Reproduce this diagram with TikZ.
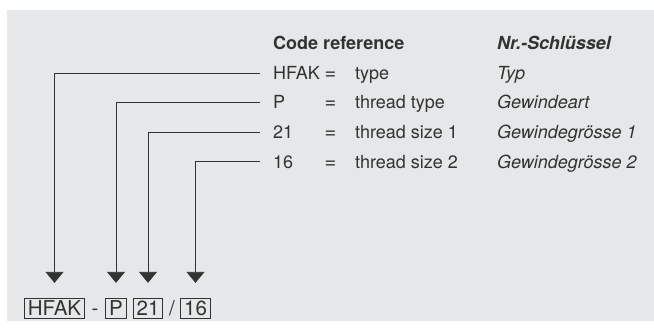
\documentclass[tikz,border=0pt]{standalone}
\usepackage{fontspec}
\setmainfont{TeX Gyre Heros}
\usetikzlibrary{arrows.meta}

\definecolor{panelgray}{RGB}{230,231,232}
\definecolor{inkgray}{RGB}{50,50,50}

\tikzset{
  rowtext/.style={anchor=west,inner sep=0pt,text height=13pt,text depth=0pt,
    text=inkgray,font=\fontsize{18}{20}\selectfont},
  gertext/.style={rowtext,font=\fontsize{18}{20}\selectfont\itshape},
  eqtext/.style={rowtext,font=\fontsize{20}{22}\selectfont},
  codebox/.style={draw=inkgray,line width=0.8pt,inner xsep=3.5pt,inner ysep=3pt,
    text height=14.5pt,text depth=0pt,text=inkgray,font=\fontsize{20.5}{22}\selectfont},
  joiner/.style={inner sep=0pt,text height=14.5pt,text depth=0pt,
    text=inkgray,font=\fontsize{20.5}{22}\selectfont},
  leader/.style={draw=inkgray,line width=0.8pt,shorten <=13pt,shorten >=15pt,
    -{Triangle[width=18pt,length=11pt]}}
}

\begin{document}
\begin{tikzpicture}[x=1pt,y=-1pt]
  \useasboundingbox (0,0) rectangle (654,329);
  \fill[panelgray] (7,10) rectangle (654,321);% panel

  \def\colCode{273}
  \def\colEq{324.5}
  \def\colDesc{355}
  \def\colGer{497}

  % header
  \node[rowtext,font=\fontsize{18}{20}\selectfont\bfseries] (hdCode) at (\colCode,43.5) {Code reference};
  \node[rowtext,font=\fontsize{18}{20}\selectfont\bfseries\itshape] (hdGer) at (\colGer,43.5) {Nr.-Schlüssel};

  % rows
  \node[rowtext] (cHFAK) at (\colCode,73) {HFAK};
  \node[eqtext] (eqHFAK) at (\colEq,73) {=};
  \node[rowtext] (dHFAK) at (\colDesc,73) {type};
  \node[gertext] (gHFAK) at (\colGer,73) {Typ};

  \node[rowtext] (cP) at (\colCode,102.5) {P};
  \node[eqtext] (eqP) at (\colEq,102.5) {=};
  \node[rowtext] (dP) at (\colDesc,102.5) {thread type};
  \node[gertext] (gP) at (\colGer,102.5) {Gewindeart};

  \node[rowtext] (c21) at (\colCode,132) {21};
  \node[eqtext] (eq21) at (\colEq,132) {=};
  \node[rowtext] (d21) at (\colDesc,132) {thread size 1};
  \node[gertext] (g21) at (\colGer,132) {Gewindegrösse 1};

  \node[rowtext] (c16) at (\colCode,161.5) {16};
  \node[eqtext] (eq16) at (\colEq,161.5) {=};
  \node[rowtext] (d16) at (\colDesc,161.5) {thread size 2};
  \node[gertext] (g16) at (\colGer,161.5) {Gewindegrösse 2};

  % code boxes
  \node[codebox] (bHFAK) at (54.5,308.5) {HFAK};
  \node[joiner] (dash) at (95,308.5) {-};
  \node[codebox] (bP) at (116,308.5) {P};
  \node[codebox] (b21) at (148,308.5) {21};
  \node[joiner] (slash) at (172,308.5) {/};
  \node[codebox] (b16) at (195.5,308.5) {16};

  % leaders
  \draw[leader] (cHFAK.west) -| (bHFAK.north);% HFAK
  \draw[leader] (cP.west) -| (bP.north);% P
  \draw[leader] (c21.west) -| (b21.north);% 21
  \draw[leader] (c16.west) -| (b16.north);% 16
\end{tikzpicture}
\end{document}
